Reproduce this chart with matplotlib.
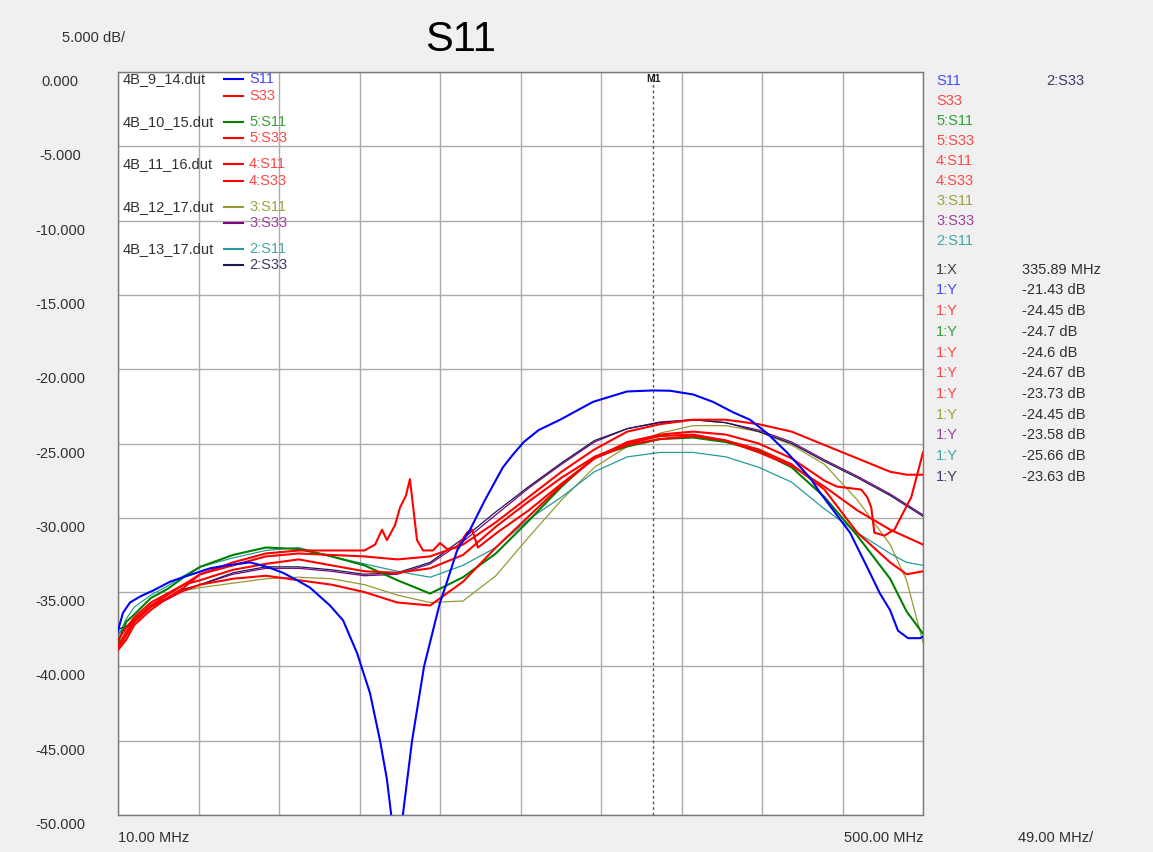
import matplotlib
matplotlib.use("Agg")
import matplotlib.pyplot as plt
from matplotlib.lines import Line2D
from matplotlib import transforms
import numpy as np

plt.rcParams['font.family'] = ['Liberation Sans', 'DejaVu Sans']

W, H = 1153, 852

# ---------------------------------------------------------------- data (MHz, dB)
freq = [10, 15, 20, 30, 40, 50, 60, 80, 100, 120, 140, 160, 180, 200, 220,
        240, 260, 280, 300, 320, 340, 360, 380, 400, 420, 440, 460, 480, 490, 500]

# 4B_9_14.dut  S11 (deep null near 180 MHz)
s11_9_14_f = [10, 13.0, 17.3, 23.4, 31.3, 41.7, 49.6, 66.0, 76.3, 90.3, 100.7,
              110.4, 119.0, 126.9, 139.0, 147.0, 155.5, 163.4, 169.5, 173.7, 176.2,
              180.0, 183.5, 189.0, 196.3, 199.9, 206.0, 209.7, 216.4, 224.3, 233.4,
              244.3, 250.0, 257.0, 266.0, 279.1, 299.1, 319.8, 335.6, 346.0, 360.0,
              372.2, 384.4, 394.7, 405.0, 417.2, 431.2, 437.3, 449.5, 455.6, 465.9,
              473.8, 479.9, 484.8, 490.9, 498.2, 500]
s11_9_14 = [-37.6, -36.4, -35.7, -35.3, -34.9, -34.3, -34.0, -33.4, -33.2, -33.0,
            -33.3, -33.7, -34.2, -34.7, -35.9, -36.9, -39.1, -41.8, -45.0, -47.6,
            -49.9, -55.0, -49.9, -45.0, -40.0, -38.4, -35.7, -34.5, -32.2, -30.8,
            -28.8, -26.6, -25.8, -24.9, -24.1, -23.4, -22.2, -21.5, -21.43, -21.45,
            -21.7, -22.2, -22.9, -23.4, -24.3, -25.6, -27.3, -28.3, -30.1, -31.0,
            -33.3, -35.1, -36.2, -37.6, -38.1, -38.1, -38.0]

# 4B_9_14.dut  S33 (spurious peak near 185 MHz)
s33_9_14_f = [10, 15, 20, 30, 40, 50, 60, 80, 100, 120, 140, 160, 166.5, 170.7,
              173.7, 178.6, 181.7, 185.3, 187.7, 192.0, 195.7, 201.7, 206.0, 210.3,
              216.4, 222.4, 225.5, 229.1, 240.7, 260, 280, 300, 320, 340, 360, 380,
              400, 420, 440, 447.6, 462.4, 466, 468.5, 470.4, 476.5, 482.6, 492.9, 500]
s33_9_14 = [-38.9, -38.2, -37.2, -36.2, -35.4, -34.7, -33.8, -33.0, -32.4, -32.2,
            -32.2, -32.2, -31.8, -30.8, -31.5, -30.5, -29.3, -28.5, -27.4, -31.5,
            -32.2, -32.2, -31.7, -32.1, -32.0, -31.0, -30.8, -32.0, -31.0, -29.5,
            -27.7, -26.0, -24.9, -24.4, -24.2, -24.4, -25.0, -26.0, -27.5, -27.9,
            -28.1, -28.6, -29.3, -31.0, -31.2, -30.8, -28.6, -25.6]

s11_10_15 = [-38.4, -37.0, -36.5, -35.4, -34.8, -34.0, -33.3, -32.5, -32.0, -32.1,
             -32.6, -33.2, -34.2, -35.1, -34.0, -32.4, -30.2, -27.9, -25.9, -25.2,
             -24.7, -24.6, -24.9, -25.5, -26.6, -28.6, -31.2, -34.1, -36.3, -37.8]
s33_10_15 = [-38.2, -37.4, -36.7, -35.7, -35.1, -34.5, -34.2, -33.5, -33.1, -32.8,
             -33.2, -33.6, -33.7, -33.4, -32.5, -30.6, -28.9, -27.3, -25.9, -25.0,
             -24.5, -24.4, -24.8, -25.6, -26.5, -27.9, -29.5, -30.8, -31.3, -31.8]
s11_11_16 = [-38.8, -37.9, -37.0, -36.0, -35.4, -34.9, -34.5, -34.1, -33.9, -34.2,
             -34.5, -35.0, -35.7, -35.9, -34.3, -32.0, -29.9, -27.8, -26.0, -25.1,
             -24.7, -24.5, -24.8, -25.4, -26.4, -28.1, -31.0, -33.0, -33.8, -33.6]
s33_11_16 = [-38.6, -37.7, -36.9, -35.9, -35.2, -34.5, -33.8, -33.2, -32.6, -32.4,
             -32.5, -32.6, -32.8, -32.6, -31.8, -30.3, -28.6, -26.9, -25.4, -24.2,
             -23.7, -23.4, -23.4, -23.7, -24.2, -25.1, -26.0, -26.9, -27.1, -27.1]
s11_12_17 = [-38.2, -37.5, -36.8, -35.9, -35.4, -34.9, -34.7, -34.4, -34.1, -34.0,
             -34.1, -34.5, -35.2, -35.7, -35.6, -33.9, -31.3, -28.8, -26.6, -25.2,
             -24.3, -23.8, -23.8, -24.2, -25.1, -26.4, -28.8, -31.8, -34.2, -38.4]
s33_12_17 = [-37.8, -37.4, -37.0, -36.0, -35.5, -34.9, -34.5, -33.8, -33.4, -33.4,
             -33.6, -33.9, -33.8, -33.1, -31.6, -29.8, -28.0, -26.4, -24.9, -24.0,
             -23.55, -23.4, -23.6, -24.1, -24.9, -26.1, -27.2, -28.4, -29.1, -29.8]
s11_13_17 = [-38.0, -36.8, -36.0, -35.2, -34.6, -33.9, -33.3, -32.7, -32.2, -32.0,
             -32.6, -33.1, -33.6, -34.0, -33.2, -32.0, -30.1, -28.6, -26.9, -25.9,
             -25.6, -25.6, -25.9, -26.6, -27.6, -29.4, -31.0, -32.4, -33.0, -33.2]
s33_13_17 = [-37.5, -37.3, -36.9, -35.9, -35.4, -34.8, -34.5, -33.7, -33.3, -33.3,
             -33.5, -33.8, -33.7, -33.0, -31.4, -29.6, -27.9, -26.3, -24.8, -24.0,
             -23.6, -23.4, -23.6, -24.2, -25.0, -26.2, -27.3, -28.5, -29.2, -29.9]

# legend: file name, trace label, line colour, text colour
files = ['4B_9_14.dut', '4B_10_15.dut', '4B_11_16.dut', '4B_12_17.dut', '4B_13_17.dut']
labels = ['S11', 'S33', '5:S11', '5:S33', '4:S11', '4:S33', '3:S11', '3:S33', '2:S11', '2:S33']
line_colors = ['#0000ff', '#ff0000', '#008000', '#ff0000', '#ff0000', '#ff0000',
               '#999933', '#800080', '#229c9c', '#1a1a50']
text_colors = ['#4848ff', '#ff4848', '#36a036', '#ff4848', '#ff4848', '#ff4848',
               '#a0a040', '#a040a0', '#40a8a8', '#3a3a6a']
line_widths = [1.5, 1.5, 1.5, 1.5, 1.5, 1.5, 0.9, 0.9, 0.9, 0.9]

marker_freq = 335.89
marker_vals = ['-21.43', '-24.45', '-24.7', '-24.6', '-24.67', '-23.73',
               '-24.45', '-23.58', '-25.66', '-23.63']

series = [(s11_9_14_f, s11_9_14), (s33_9_14_f, s33_9_14),
          (freq, s11_10_15), (freq, s33_10_15), (freq, s11_11_16), (freq, s33_11_16),
          (freq, s11_12_17), (freq, s33_12_17), (freq, s11_13_17), (freq, s33_13_17)]

x_start, x_stop, x_div = 10.0, 500.0, 49.0
y_top, y_div = 0.0, 5.0


def px(x, y):
    return x / W, 1 - y / H


# ---------------------------------------------------------------- figure
fig = plt.figure(figsize=(W / 100, H / 100), dpi=100, facecolor='#f0f0f0')
ax = fig.add_axes([118 / W, 1 - 815 / H, 805 / W, 743 / H])
ax.set_facecolor('white')
ax.set_xlim(x_start, x_stop)
ax.set_ylim(y_top - 10 * y_div, y_top)
ax.set_xticks(np.arange(x_start, x_stop + 1, x_div))
ax.set_yticks(np.arange(y_top - 10 * y_div, y_top + 1, y_div))
ax.grid(True, color='#ababab', lw=1.0)
ax.tick_params(length=0, labelbottom=False, labelleft=False)
for s in ax.spines.values():
    s.set_color('#7a7a7a')
    s.set_linewidth(1.0)

# draw order: thin traces under the thick ones
order = [6, 7, 8, 9, 2, 3, 4, 5, 1, 0]
for i in order:
    f, v = series[i]
    ax.plot(f, v, color=line_colors[i], lw=line_widths[i], zorder=3,
            solid_joinstyle='round', clip_on=True)

# marker
ax.axvline(marker_freq, color='#555555', lw=1.0, ls=(0, (2, 2)), zorder=4)
ax.text(marker_freq, 0, 'M1', transform=transforms.offset_copy(
    ax.transData, fig=fig, y=-2, units='dots'), ha='center', va='top',
    fontsize=7.5, fontweight='bold', color='#202020', zorder=5)

# y scale labels
blend = transforms.blended_transform_factory(ax.transAxes, ax.transData)
ylab_tr = transforms.offset_copy(blend, fig=fig, y=-10, units='dots')
for v in np.arange(y_top, y_top - 10 * y_div - 1, -y_div):
    ax.text(-58 / 805, v, f"{v:.3f}" if v != 0 else "0.000", transform=ylab_tr,
            ha='center', va='center', fontsize=10.5, color='#303030', clip_on=False)

# x scale labels
xblend = transforms.blended_transform_factory(ax.transData, ax.transAxes)
ax.text(x_start, -23 / 743, f"{x_start:.2f} MHz", transform=xblend, ha='left',
        va='center', fontsize=10.5, color='#303030')
ax.text(x_stop, -23 / 743, f"{x_stop:.2f} MHz", transform=xblend, ha='right',
        va='center', fontsize=10.5, color='#303030')
fig.text(*px(1018, 838), f"{x_div:.2f} MHz/", ha='left', va='center',
         fontsize=10.5, color='#303030')
fig.text(*px(62, 38), f"{y_div:.3f} dB/", ha='left', va='center',
         fontsize=10.5, color='#303030')

# title
fig.text(*px(461, 40), 'S11', ha='center', va='center', fontsize=30, color='black')

# in-plot legend
row_y = [79, 96, 122, 138, 164, 181, 207, 223, 249, 265]
for k, name in enumerate(files):
    fig.text(*px(123, row_y[2 * k]), name, ha='left', va='center',
             fontsize=10.5, color='#303030')
for i, lab in enumerate(labels):
    x0, y0 = px(224, row_y[i])
    x1, _ = px(243, row_y[i])
    fig.add_artist(Line2D([x0, x1], [y0, y0], color=line_colors[i], lw=1.5,
                          transform=fig.transFigure))
    fig.text(*px(249, row_y[i]), lab, ha='left', va='center', fontsize=10.5,
             color=text_colors[i])

# right-hand trace list
for i, lab in enumerate(labels[:9]):
    fig.text(*px(936, 81 + 20 * i), lab, ha='left', va='center', fontsize=10.5,
             color=text_colors[i])
fig.text(*px(1046, 81), labels[9], ha='left', va='center', fontsize=10.5,
         color=text_colors[9])

# marker readout
fig.text(*px(936, 270), '1:X', ha='left', va='center', fontsize=10.5, color='#404040')
fig.text(*px(1022, 270), f"{marker_freq:.2f} MHz", ha='left', va='center',
         fontsize=10.5, color='#303030')
for i, val in enumerate(marker_vals):
    yy = 290.5 + 20.7 * i
    fig.text(*px(936, yy), '1:Y', ha='left', va='center', fontsize=10.5,
             color=text_colors[i])
    fig.text(*px(1022, yy), f"{val} dB", ha='left', va='center', fontsize=10.5,
             color='#303030')

fig.savefig('out.png', dpi=100, facecolor=fig.get_facecolor())
